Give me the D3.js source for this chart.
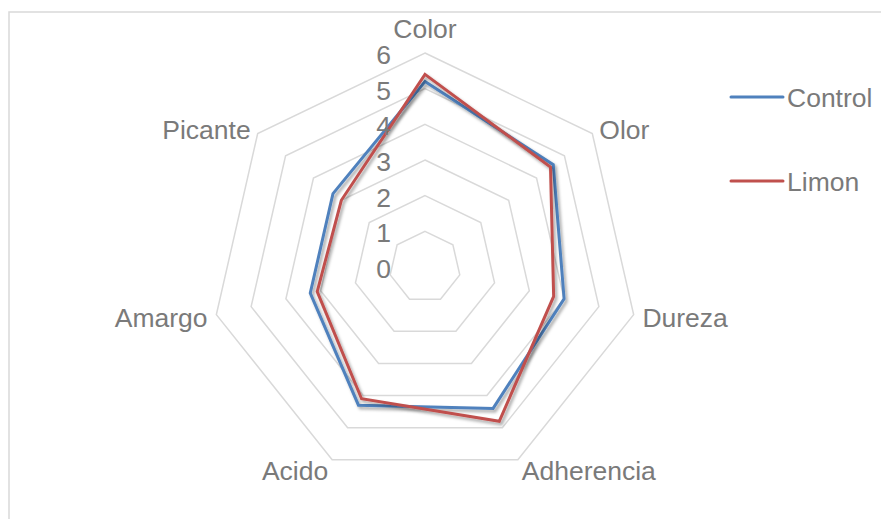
<!DOCTYPE html>
<html>
<head>
<meta charset="utf-8">
<script src="https://cdn.jsdelivr.net/npm/d3@7"></script>
<style>
  html, body { margin: 0; padding: 0; background: #fff; }
  svg { display: block; }
  text { font-family: "Liberation Sans", Arial, sans-serif; fill: #7A7A7A; }
</style>
</head>
<body>
<svg id="chart" width="881" height="519"></svg>
<script>
// Sensory attributes (radar axes, clockwise from top)
const categories = ["Color", "Olor", "Dureza", "Adherencia", "Acido", "Amargo", "Picante"];
// Panel scores per treatment
const controlValues = [5.2, 4.6, 4.0, 4.4, 4.3, 3.3, 3.3];
const limonValues   = [5.4, 4.5, 3.7, 4.8, 4.1, 3.1, 3.0];
const seriesNames = ["Control", "Limon"];
const seriesColors = ["#4F81BD", "#C0504D"];
// Radial axis ticks
const tickValues = [0, 1, 2, 3, 4, 5, 6];
const tickLabels = ["0", "1", "2", "3", "4", "5", "6"];

const svg = d3.select("#chart");
const cx = 425, cy = 267, R = 214;
const fontSize = 26.5;

// Chart area border
svg.append("rect")
  .attr("x", 9).attr("y", 12).attr("width", 900).attr("height", 540)
  .attr("fill", "none").attr("stroke", "#D9D9D9").attr("stroke-width", 1.5);

const r = d3.scaleLinear().domain([0, 6]).range([0, R]);
const angle = d3.scalePoint().domain(categories).range([0, 2 * Math.PI * (1 - 1 / categories.length)]);
const pt = (cat, v) => {
  const a = angle(cat);
  return [cx + r(v) * Math.sin(a), cy - r(v) * Math.cos(a)];
};

// Shadow under the series lines
const defs = svg.append("defs");
const f = defs.append("filter").attr("id", "shadow")
  .attr("x", "-10%").attr("y", "-10%").attr("width", "120%").attr("height", "120%");
f.append("feDropShadow").attr("dx", 2).attr("dy", 2.5).attr("stdDeviation", 1.6)
  .attr("flood-color", "#000").attr("flood-opacity", 0.35);

// Gridline rings (1..6)
const ringLine = d3.line().curve(d3.curveLinearClosed);
svg.append("g").selectAll("path")
  .data(tickValues.filter(t => t > 0))
  .join("path")
  .attr("d", t => ringLine(categories.map(c => pt(c, t))))
  .attr("fill", "none")
  .attr("stroke", "#D9D9D9")
  .attr("stroke-width", 1.5);

// Series
const seriesData = [controlValues, limonValues];
const seriesLine = d3.line().curve(d3.curveLinearClosed);
svg.append("g").selectAll("path")
  .data(seriesData)
  .join("path")
  .attr("d", vals => seriesLine(categories.map((c, i) => pt(c, vals[i]))))
  .attr("fill", "none")
  .attr("stroke", (d, i) => seriesColors[i])
  .attr("stroke-width", 3)
  .attr("stroke-linejoin", "miter")
  .attr("filter", "url(#shadow)");

// Radial tick labels, placed left of the top axis
svg.append("g").selectAll("text")
  .data(tickValues)
  .join("text")
  .attr("x", cx - 34)
  .attr("y", t => cy - r(t) + 2)
  .attr("text-anchor", "end")
  .attr("dominant-baseline", "central")
  .attr("font-size", fontSize)
  .text((t, i) => tickLabels[i]);

// Category labels
svg.append("g").selectAll("text")
  .data(categories)
  .join("text")
  .each(function(c) {
    const a = angle(c);
    const s = Math.sin(a), co = Math.cos(a);
    const pad = 9;
    let x = cx + (R + pad) * s;
    let y = cy - (R + pad) * co;
    if (Math.abs(s) < 0.05) y -= 15;
    else if (co > 0.5) y += 2;          // upper side labels
    else if (co > -0.5) y += 1;         // middle side labels
    else y += 3;                        // lower side labels
    d3.select(this)
      .attr("x", x).attr("y", y)
      .attr("text-anchor", Math.abs(s) < 0.05 ? "middle" : (s > 0 ? "start" : "end"))
      .attr("dominant-baseline", "central")
      .attr("font-size", fontSize);
  })
  .text(c => c);

// Legend
const legend = svg.append("g").selectAll("g")
  .data(seriesNames)
  .join("g")
  .attr("transform", (d, i) => `translate(731, ${97 + i * 84})`);
legend.append("line")
  .attr("x1", 0).attr("x2", 52).attr("y1", 0).attr("y2", 0)
  .attr("stroke", (d, i) => seriesColors[i])
  .attr("stroke-width", 3)
  .attr("stroke-linecap", "round");
legend.append("text")
  .attr("x", 56).attr("y", 1)
  .attr("dominant-baseline", "central")
  .attr("font-size", fontSize)
  .text(d => d);
</script>
</body>
</html>
